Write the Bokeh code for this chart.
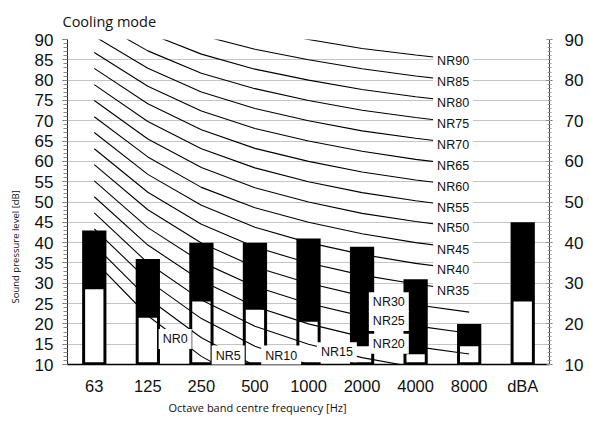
from bokeh.embed import file_html
from bokeh.models import (ColumnDataSource, FactorRange, Label, LinearAxis,
                          Range1d, SingleIntervalTicker, Title)
from bokeh.plotting import figure
from bokeh.resources import INLINE

# Octave bands (plus the overall A-weighted level)
bands = ["63", "125", "250", "500", "1000", "2000", "4000", "8000", "dBA"]

# Sound pressure levels per band [dB]
level_upper = [43, 36, 40, 40, 41, 39, 31, 20, 45]
level_lower = [28.5, 21.5, 25.5, 23.5, 20.5, 14.5, 12.5, 14.5, 25.5]

# Noise-rating curves, 63 Hz ... 8000 Hz
nr_bands = ["63", "125", "250", "500", "1000", "2000", "4000", "8000"]
nr_ratings = [0, 5, 10, 15, 20, 25, 30, 35, 40, 45, 50, 55, 60, 65, 70, 75, 80, 85, 90]
nr_levels = [
    [35.5, 22.0, 12.0, 4.8, 0.0, -3.5, -6.1, -8.0],
    [39.4, 26.3, 16.6, 9.7, 5.0, 1.6, -1.0, -2.8],
    [43.4, 30.7, 21.3, 14.5, 10.0, 6.6, 4.2, 2.3],
    [47.3, 35.0, 25.9, 19.4, 15.0, 11.7, 9.3, 7.4],
    [51.3, 39.4, 30.6, 24.3, 20.0, 16.8, 14.4, 12.6],
    [55.2, 43.7, 35.2, 29.2, 25.0, 21.9, 19.5, 17.7],
    [59.2, 48.1, 39.9, 34.0, 30.0, 26.9, 24.7, 22.9],
    [63.1, 52.4, 44.5, 38.9, 35.0, 32.0, 29.8, 28.0],
    [67.1, 56.8, 49.2, 43.8, 40.0, 37.1, 34.9, 33.2],
    [71.0, 61.1, 53.6, 48.6, 45.0, 42.2, 40.0, 38.3],
    [75.0, 65.5, 58.5, 53.5, 50.0, 47.2, 45.2, 43.5],
    [78.9, 69.8, 63.1, 58.4, 55.0, 52.3, 50.3, 48.6],
    [82.9, 74.2, 67.8, 63.2, 60.0, 57.4, 55.4, 53.8],
    [86.8, 78.5, 72.4, 68.1, 65.0, 62.5, 60.5, 58.9],
    [90.8, 82.9, 77.1, 73.0, 70.0, 67.5, 65.7, 64.1],
    [94.7, 87.2, 81.7, 77.9, 75.0, 72.6, 70.8, 69.2],
    [98.7, 91.6, 86.4, 82.7, 80.0, 77.7, 75.9, 74.4],
    [102.6, 95.9, 91.0, 87.6, 85.0, 82.8, 81.0, 79.5],
    [106.6, 100.3, 95.7, 92.5, 90.0, 87.8, 86.2, 84.7],
]

ARIAL = "Liberation Sans"
SANS = "Open Sans"

p = figure(
    width=589, height=426,
    x_range=FactorRange(factors=bands),
    y_range=Range1d(10, 90),
    output_backend="svg", toolbar_location=None,
    min_border_left=67, min_border_right=40,
    min_border_top=39, min_border_bottom=62,
)
p.outline_line_color = None
p.background_fill_color = "white"
p.border_fill_color = "white"

# Chart title, top left
p.title.text = "Cooling mode"
p.title.align = "left"
p.title.offset = -5
p.title.vertical_align = "top"
p.title.text_font = SANS
p.title.text_font_size = "14.5px"
p.title.text_font_style = "normal"
p.title.text_color = "#111111"
p.title.standoff = 14

# Bottom axis: band names only
xa = p.xaxis[0]
xa.major_tick_line_color = None
xa.minor_tick_line_color = None
xa.axis_line_color = "black"
xa.axis_line_width = 1.5
xa.major_label_text_font = ARIAL
xa.major_label_text_font_size = "16.5px"
xa.major_label_text_color = "#111111"
xa.major_label_standoff = 6

# Left axis: every 5 dB, minor ticks every 1 dB
ya = p.yaxis[0]
ya.ticker = SingleIntervalTicker(interval=5, num_minor_ticks=5)
ya.major_tick_out = 5
ya.major_tick_in = 0
ya.minor_tick_out = 4
ya.minor_tick_in = 0
ya.major_tick_line_color = "#555555"
ya.minor_tick_line_color = "#888888"
ya.axis_line_color = "#222222"
ya.major_label_text_font = ARIAL
ya.major_label_text_font_size = "17px"
ya.major_label_text_color = "#111111"
ya.major_label_standoff = 9

# Right axis: every 10 dB
ra = LinearAxis(ticker=SingleIntervalTicker(interval=10, num_minor_ticks=10))
ra.major_tick_out = 3
ra.major_tick_in = 3
ra.minor_tick_out = 2
ra.minor_tick_in = 2
ra.major_tick_line_color = "#666666"
ra.minor_tick_line_color = "#999999"
ra.axis_line_color = "#444444"
ra.major_label_text_font = ARIAL
ra.major_label_text_font_size = "17px"
ra.major_label_text_color = "#111111"
ra.major_label_standoff = 12
p.add_layout(ra, "right")

# Axis titles, offset along their axes
p.add_layout(Title(text="Octave band centre frequency [Hz]", align="left", offset=101,
                   standoff=0, text_font=SANS, text_font_size="11px",
                   text_font_style="normal", text_color="#111111"), "below")
p.add_layout(Title(text="Sound pressure level [dB]", align="left", offset=61,
                   vertical_align="top", standoff=16, text_font=SANS,
                   text_font_size="9.5px", text_font_style="normal",
                   text_color="#111111"), "left")

p.xgrid.grid_line_color = None
p.ygrid.grid_line_color = "#c4c4c4"
p.ygrid.grid_line_width = 1

# Bars: full level in black, lower level as a white inset
bars = ColumnDataSource(dict(band=bands, upper=level_upper, lower=level_lower))
p.vbar(x="band", top="upper", bottom=10, width=0.453, source=bars,
       fill_color="black", line_color=None)
p.vbar(x="band", top="lower", bottom=10.55, width=0.342, source=bars,
       fill_color="white", line_color=None)

# NR curves on top of the bars
curves = ColumnDataSource(dict(xs=[nr_bands] * len(nr_levels), ys=nr_levels))
p.multi_line(xs="xs", ys="ys", source=curves, line_color="black", line_width=1.1)


def tag(x, y, text, pad=(4, 3)):
    p.add_layout(Label(
        x=x, y=y, text=text, text_align="center", text_baseline="middle",
        text_font=ARIAL, text_font_size="12.5px", text_color="#111111",
        background_fill_color="white", padding=pad,
    ))


# Curve names at the 8000 Hz end for NR35 and up
for rating, levels in zip(nr_ratings, nr_levels):
    if rating >= 35:
        tag(7.2, levels[-1], f"NR{rating}")

# Lower curves are named inside the plot area
inner_tags = {0: (2.01, 16.3), 5: (3.0, 12.2), 10: (3.99, 12.2), 15: (5.03, 13.0),
              20: (6.0, 15.1), 25: (6.0, 20.7), 30: (6.0, 25.3)}
for rating, (x, y) in inner_tags.items():
    tag(x, y, f"NR{rating}")

open("out.html", "w").write(file_html(p, INLINE))
